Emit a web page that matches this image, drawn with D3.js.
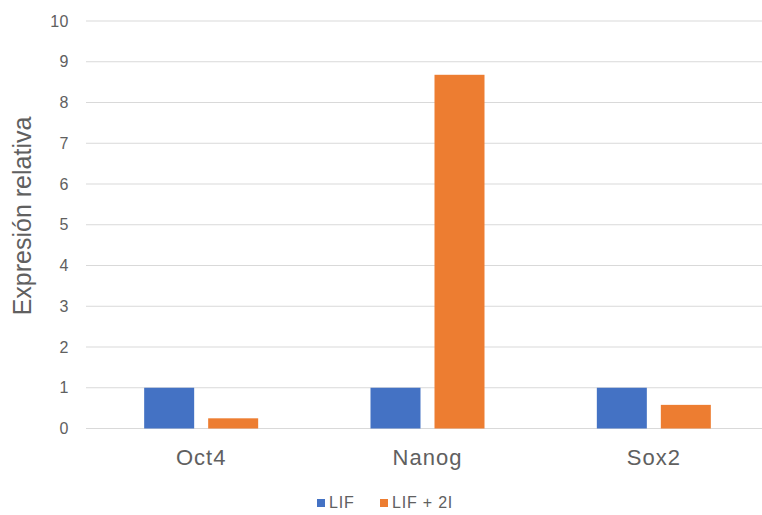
<!DOCTYPE html>
<html><head><meta charset="utf-8">
<script src="https://cdn.jsdelivr.net/npm/d3@7"></script>
<style>body{margin:0;background:#fff}</style>
</head><body>
<svg id="c" width="762" height="515"></svg>
<script>
const categories = ["Oct4", "Nanog", "Sox2"];
const seriesNames = ["LIF", "LIF + 2I"];
const lif = [1, 1, 1];
const lif2i = [0.25, 8.68, 0.58];
const yTicks = [0,1,2,3,4,5,6,7,8,9,10];
const colors = ["#4472C4", "#ED7D31"];

const svg = d3.select("#c");
const font = "'Liberation Sans', Arial, sans-serif";
const textColor = "#606060";

const x = d3.scaleBand().domain(categories).range([88, 767]).padding(0);
const y = d3.scaleLinear().domain([0, 10]).range([428.5, 21]);

// gridlines
svg.append("g").selectAll("line").data(yTicks).join("line")
  .attr("x1", 86).attr("x2", 762)
  .attr("y1", d => y(d)).attr("y2", d => y(d))
  .attr("stroke", "#D9D9D9").attr("stroke-width", 1.2);

// y tick labels
const yAxis = d3.axisLeft(y).tickValues(yTicks).tickSize(0).tickPadding(0);
const ya = svg.append("g").attr("transform", "translate(69,0)").call(yAxis);
ya.select(".domain").remove();
ya.selectAll("text").attr("font-family", font).attr("font-size", 16)
  .attr("fill", textColor).attr("letter-spacing", 0.5);

// bars
const barW = 50, gap = 14;
const series = [lif, lif2i];
const x1 = d3.scaleBand().domain([0, 1]).range([-(barW + gap/2), barW + gap/2])
  .paddingInner(gap / (barW + gap)).paddingOuter(0);
series.forEach((vals, si) => {
  svg.append("g").selectAll("rect").data(vals).join("rect")
    .attr("x", (d, i) => x(categories[i]) + x.bandwidth()/2 + x1(si))
    .attr("width", x1.bandwidth())
    .attr("y", d => y(d))
    .attr("height", d => y(0) - y(d))
    .attr("fill", colors[si]);
});

// x labels
const xAxis = d3.axisBottom(x).tickSize(0).tickPadding(0);
const xa = svg.append("g").attr("transform", "translate(0,449)").call(xAxis);
xa.select(".domain").remove();
xa.selectAll("text").attr("font-family", font).attr("font-size", 22)
  .attr("fill", textColor).attr("letter-spacing", 1);

// y axis title
svg.append("text").attr("transform", "translate(31,216) rotate(-90)")
  .attr("text-anchor", "middle").attr("font-family", font).attr("font-size", 25)
  .attr("fill", textColor).text("Expresión relativa");

// legend
const legX = [317, 380];
seriesNames.forEach((n, i) => {
  svg.append("rect").attr("x", legX[i]).attr("y", 499).attr("width", 8).attr("height", 8).attr("fill", colors[i]);
  svg.append("text").attr("x", legX[i] + 12).attr("y", 508)
    .attr("font-family", font).attr("font-size", 16).attr("letter-spacing", 0.8)
    .attr("fill", textColor).text(n);
});
</script>
</body></html>
